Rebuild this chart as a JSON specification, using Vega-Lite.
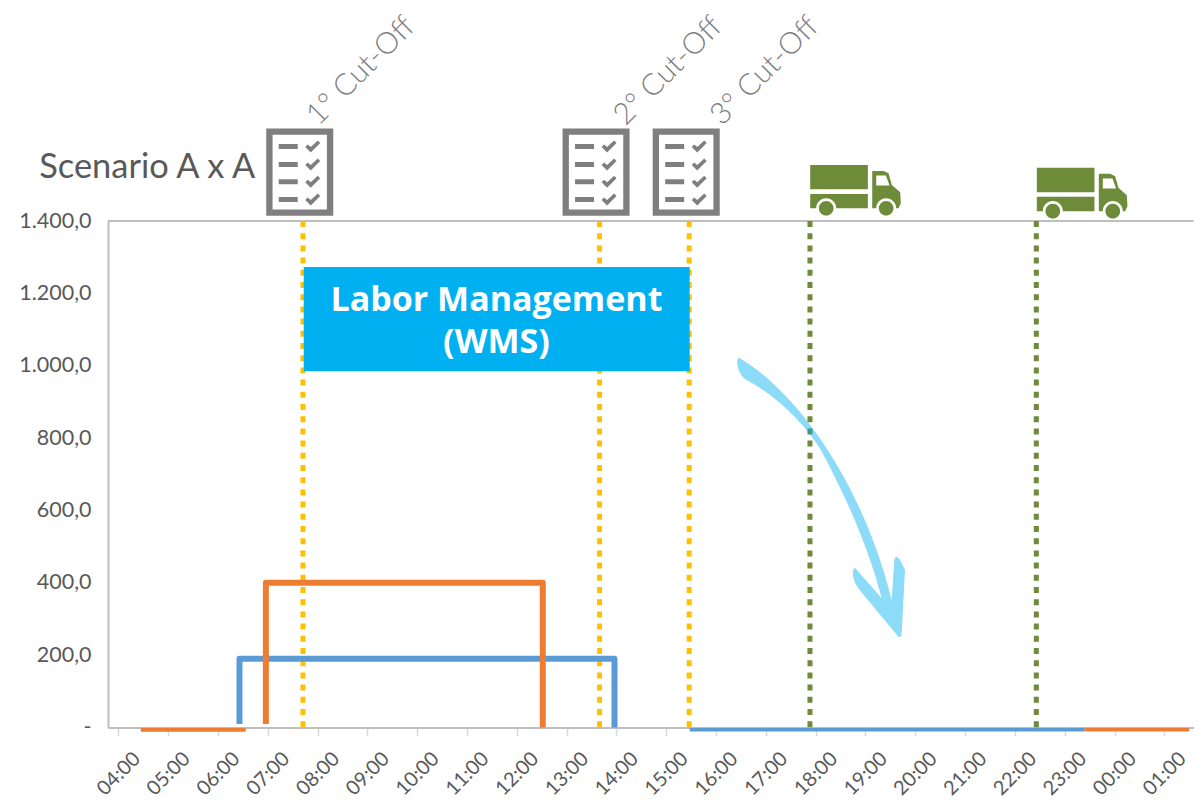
{
"width":1085.5,"height":506.5,
"padding":{"left":18,"top":11,"right":0,"bottom":0},
"background":"white",
"config":{"view":{"stroke":null},"font":"Lato"},
"datasets":{
"series":[
{"hour":4.45,"value":-6,"series":"Series 1","segment":"s1a","step":1},
{"hour":6.55,"value":-6,"series":"Series 1","segment":"s1a","step":2},
{"hour":6.43,"value":10,"series":"Series 1","segment":"s1b","step":1},
{"hour":6.43,"value":190,"series":"Series 1","segment":"s1b","step":2},
{"hour":13.96,"value":190,"series":"Series 1","segment":"s1b","step":3},
{"hour":13.96,"value":0,"series":"Series 1","segment":"s1b","step":4},
{"hour":15.47,"value":-6,"series":"Series 1","segment":"s1c","step":1},
{"hour":23.4,"value":-6,"series":"Series 1","segment":"s1c","step":2},
{"hour":4.45,"value":-6,"series":"Series 2","segment":"s2a","step":1},
{"hour":6.55,"value":-6,"series":"Series 2","segment":"s2a","step":2},
{"hour":6.96,"value":10,"series":"Series 2","segment":"s2b","step":1},
{"hour":6.96,"value":400,"series":"Series 2","segment":"s2b","step":2},
{"hour":12.52,"value":400,"series":"Series 2","segment":"s2b","step":3},
{"hour":12.52,"value":0,"series":"Series 2","segment":"s2b","step":4},
{"hour":23.4,"value":-6,"series":"Series 2","segment":"s2c","step":1},
{"hour":25.5,"value":-6,"series":"Series 2","segment":"s2c","step":2}
],
"cutoffs":[
{"hour":7.705,"icon":7.64,"labelHour":8.01,"label":"1° Cut-Off"},
{"hour":13.66,"icon":13.59,"labelHour":14.18,"label":"2° Cut-Off"},
{"hour":15.46,"icon":15.4,"labelHour":16.12,"label":"3° Cut-Off"}
],
"trucks":[
{"hour":17.885,"icon":18.8,"level":1485},
{"hour":22.43,"icon":23.35,"level":1477}
]
},
"layer":[
{"data":{"values":[{"level":1400}]},"mark":{"type":"rule","color":"#bfbfbf","strokeWidth":2},"encoding":{"y":{"field":"level","type":"quantitative"}}},
{"data":{"name":"cutoffs"},"mark":{"type":"rule","color":"#FFC000","strokeWidth":5,"strokeDash":[6,6.2]},"encoding":{"x":{"field":"hour","type":"quantitative"}}},
{"data":{"name":"trucks"},"mark":{"type":"rule","color":"#6E8B3A","strokeWidth":5,"strokeDash":[6,6.2]},"encoding":{"x":{"field":"hour","type":"quantitative"}}},
{"data":{"name":"series"},"transform":[{"filter":"datum.value>=0"}],"mark":{"type":"line","strokeWidth":6,"strokeJoin":"round"},
"encoding":{
"x":{"field":"hour","type":"quantitative","title":null,
"scale":{"domain":[3.79,25.586],"nice":false,"zero":false},
"axis":{"values":[4,5,6,7,8,9,10,11,12,13,14,15,16,17,18,19,20,21,22,23,24,25],"labelExpr":"(datum.value%24<10?'0':'')+(datum.value%24)+':00'","grid":false,"labelAngle":-45,"labelAlign":"center","labelBaseline":"middle","labelPadding":38,"labelDx":15,"labelFontSize":20,"labelColor":"#595959","labelFont":"Lato","labelOverlap":false,"labelBound":false,"labelFlush":false,"domainColor":"#bfbfbf","domainWidth":2,"tickColor":"#d9d9d9","tickWidth":1.5,"tickSize":8}},
"y":{"field":"value","type":"quantitative","title":null,
"scale":{"domain":[0,1400],"nice":false},
"axis":{"values":[0,200,400,600,800,1000,1200,1400],"grid":false,"ticks":false,"labelPadding":17,"labelFontSize":21.5,"labelColor":"#595959","labelFont":"Lato","domainColor":"#bfbfbf","domainWidth":2,"labelExpr":"datum.value==0 ? '-' : replace(replace(replace(format(datum.value,',.1f'),',','#'),'.',','),'#','.')"}},
"color":{"field":"series","type":"nominal","scale":{"domain":["Series 1","Series 2"],"range":["#5B9BD5","#ED7D31"]},"legend":null},
"detail":{"field":"segment"},
"order":{"field":"step","type":"quantitative"}
}},
{"data":{"name":"series"},"transform":[{"filter":"datum.value<0"}],"mark":{"type":"line","strokeWidth":3.5},
"encoding":{
"x":{"field":"hour","type":"quantitative"},
"y":{"field":"value","type":"quantitative"},
"color":{"field":"series","type":"nominal","scale":{"domain":["Series 1","Series 2"],"range":["#5B9BD5","#ED7D31"]},"legend":null},
"detail":{"field":"segment"},
"order":{"field":"step","type":"quantitative"}
}},
{"data":{"values":[{"start":7.72,"end":15.47,"low":985,"high":1273}]},"mark":{"type":"rect","color":"#00B0F0"},
"encoding":{"x":{"field":"start","type":"quantitative"},"x2":{"field":"end"},"y":{"field":"low","type":"quantitative"},"y2":{"field":"high"}}},
{"data":{"values":[{"hour":11.59,"level":1180,"label":"Labor Management"},{"hour":11.59,"level":1062,"label":"(WMS)"}]},
"mark":{"type":"text","font":"Open Sans","fontWeight":"bold","fontSize":34,"color":"white","align":"center","baseline":"middle"},
"encoding":{"x":{"field":"hour","type":"quantitative"},"y":{"field":"level","type":"quantitative"},"text":{"field":"label"}}},
{"data":{"name":"cutoffs"},"transform":[{"calculate":"1535","as":"level"}],
"mark":{"type":"point","filled":true,"opacity":1,"fill":"#7F7F7F","stroke":null,"size":7638,
"shape":"M-0.767,-1 L0.767,-1 L0.767,1 L-0.767,1 Z M-0.622,-0.856 L-0.622,0.856 L0.622,0.856 L0.622,-0.856 Z M-0.481,-0.645 L-0.046,-0.645 L-0.046,-0.531 L-0.481,-0.531 Z M0.126,-0.577 L0.183,-0.634 L0.252,-0.577 L0.412,-0.725 L0.469,-0.668 L0.252,-0.451 Z M-0.481,-0.233 L-0.046,-0.233 L-0.046,-0.119 L-0.481,-0.119 Z M0.126,-0.165 L0.183,-0.222 L0.252,-0.165 L0.412,-0.313 L0.469,-0.256 L0.252,-0.039 Z M-0.481,0.165 L-0.046,0.165 L-0.046,0.279 L-0.481,0.279 Z M0.126,0.233 L0.183,0.176 L0.252,0.233 L0.412,0.085 L0.469,0.142 L0.252,0.359 Z M-0.481,0.568 L-0.046,0.568 L-0.046,0.682 L-0.481,0.682 Z M0.126,0.636 L0.183,0.579 L0.252,0.636 L0.412,0.488 L0.469,0.545 L0.252,0.762 Z"},
"encoding":{"x":{"field":"icon","type":"quantitative"},"y":{"field":"level","type":"quantitative"}}},
{"data":{"name":"trucks"},
"mark":{"type":"point","filled":true,"opacity":1,"fill":"#6E8B3A","stroke":null,"size":8214,
"shape":"M-1,-0.559 L0.272,-0.559 L0.272,-0.022 L-1,-0.022 Z M-1,0.081 L0.272,0.081 L0.272,0.397 L-0.426,0.397 C-0.426,0.275 -0.525,0.176 -0.647,0.176 C-0.769,0.176 -0.868,0.275 -0.868,0.397 L-1,0.397 Z M-0.809,0.397 C-0.809,0.308 -0.736,0.235 -0.647,0.235 C-0.558,0.235 -0.485,0.308 -0.485,0.397 C-0.485,0.486 -0.558,0.559 -0.647,0.559 C-0.736,0.559 -0.809,0.486 -0.809,0.397 Z M0.514,0.397 C0.514,0.308 0.587,0.235 0.676,0.235 C0.765,0.235 0.838,0.308 0.838,0.397 C0.838,0.486 0.765,0.559 0.676,0.559 C0.587,0.559 0.514,0.486 0.514,0.397 Z M0.368,-0.426 L0.618,-0.426 L0.728,-0.375 L0.801,-0.118 L0.985,0.044 L1,0.287 L0.949,0.397 L0.897,0.397 C0.897,0.275 0.798,0.176 0.676,0.176 C0.554,0.176 0.456,0.275 0.456,0.397 L0.368,0.397 Z M0.456,-0.324 L0.456,-0.103 L0.75,-0.103 L0.669,-0.324 Z"},
"encoding":{"x":{"field":"icon","type":"quantitative"},"y":{"field":"level","type":"quantitative"}}},
{"data":{"name":"cutoffs"},"transform":[{"calculate":"1661","as":"level"}],
"mark":{"type":"text","font":"Lato","fontWeight":300,"fontSize":30,"color":"#7F7F7F","angle":315,"align":"left","baseline":"alphabetic"},
"encoding":{"x":{"field":"labelHour","type":"quantitative"},"y":{"field":"level","type":"quantitative"},"text":{"field":"label"}}},
{"data":{"values":[{"hour":2.41,"level":1519,"label":"Scenario A x A"}]},
"mark":{"type":"text","font":"Lato","fontSize":34.4,"color":"#595959","align":"left","baseline":"alphabetic"},
"encoding":{"x":{"field":"hour","type":"quantitative"},"y":{"field":"level","type":"quantitative"},"text":{"field":"label"}}},
{"data":{"values":[{"hour":18.12,"level":638}]},
"mark":{"type":"point","filled":true,"fill":"#00B0F0","opacity":0.45,"stroke":null,"size":78400,
"shape":"M-0.595,-0.995 C-0.262,-0.81 0.262,-0.214 0.5,0.738 L0.519,0.45 C0.524,0.42 0.55,0.41 0.595,0.524 L0.571,0.986 C0.57,1 0.555,1.005 0.548,1 L0.262,0.655 C0.22,0.6 0.21,0.52 0.238,0.507 L0.429,0.726 C0.345,0.405 0.202,0.048 -0.012,-0.345 C-0.119,-0.512 -0.31,-0.714 -0.536,-0.833 C-0.585,-0.86 -0.62,-0.95 -0.595,-0.995 Z"},
"encoding":{"x":{"field":"hour","type":"quantitative"},"y":{"field":"level","type":"quantitative"}}}
]
}
